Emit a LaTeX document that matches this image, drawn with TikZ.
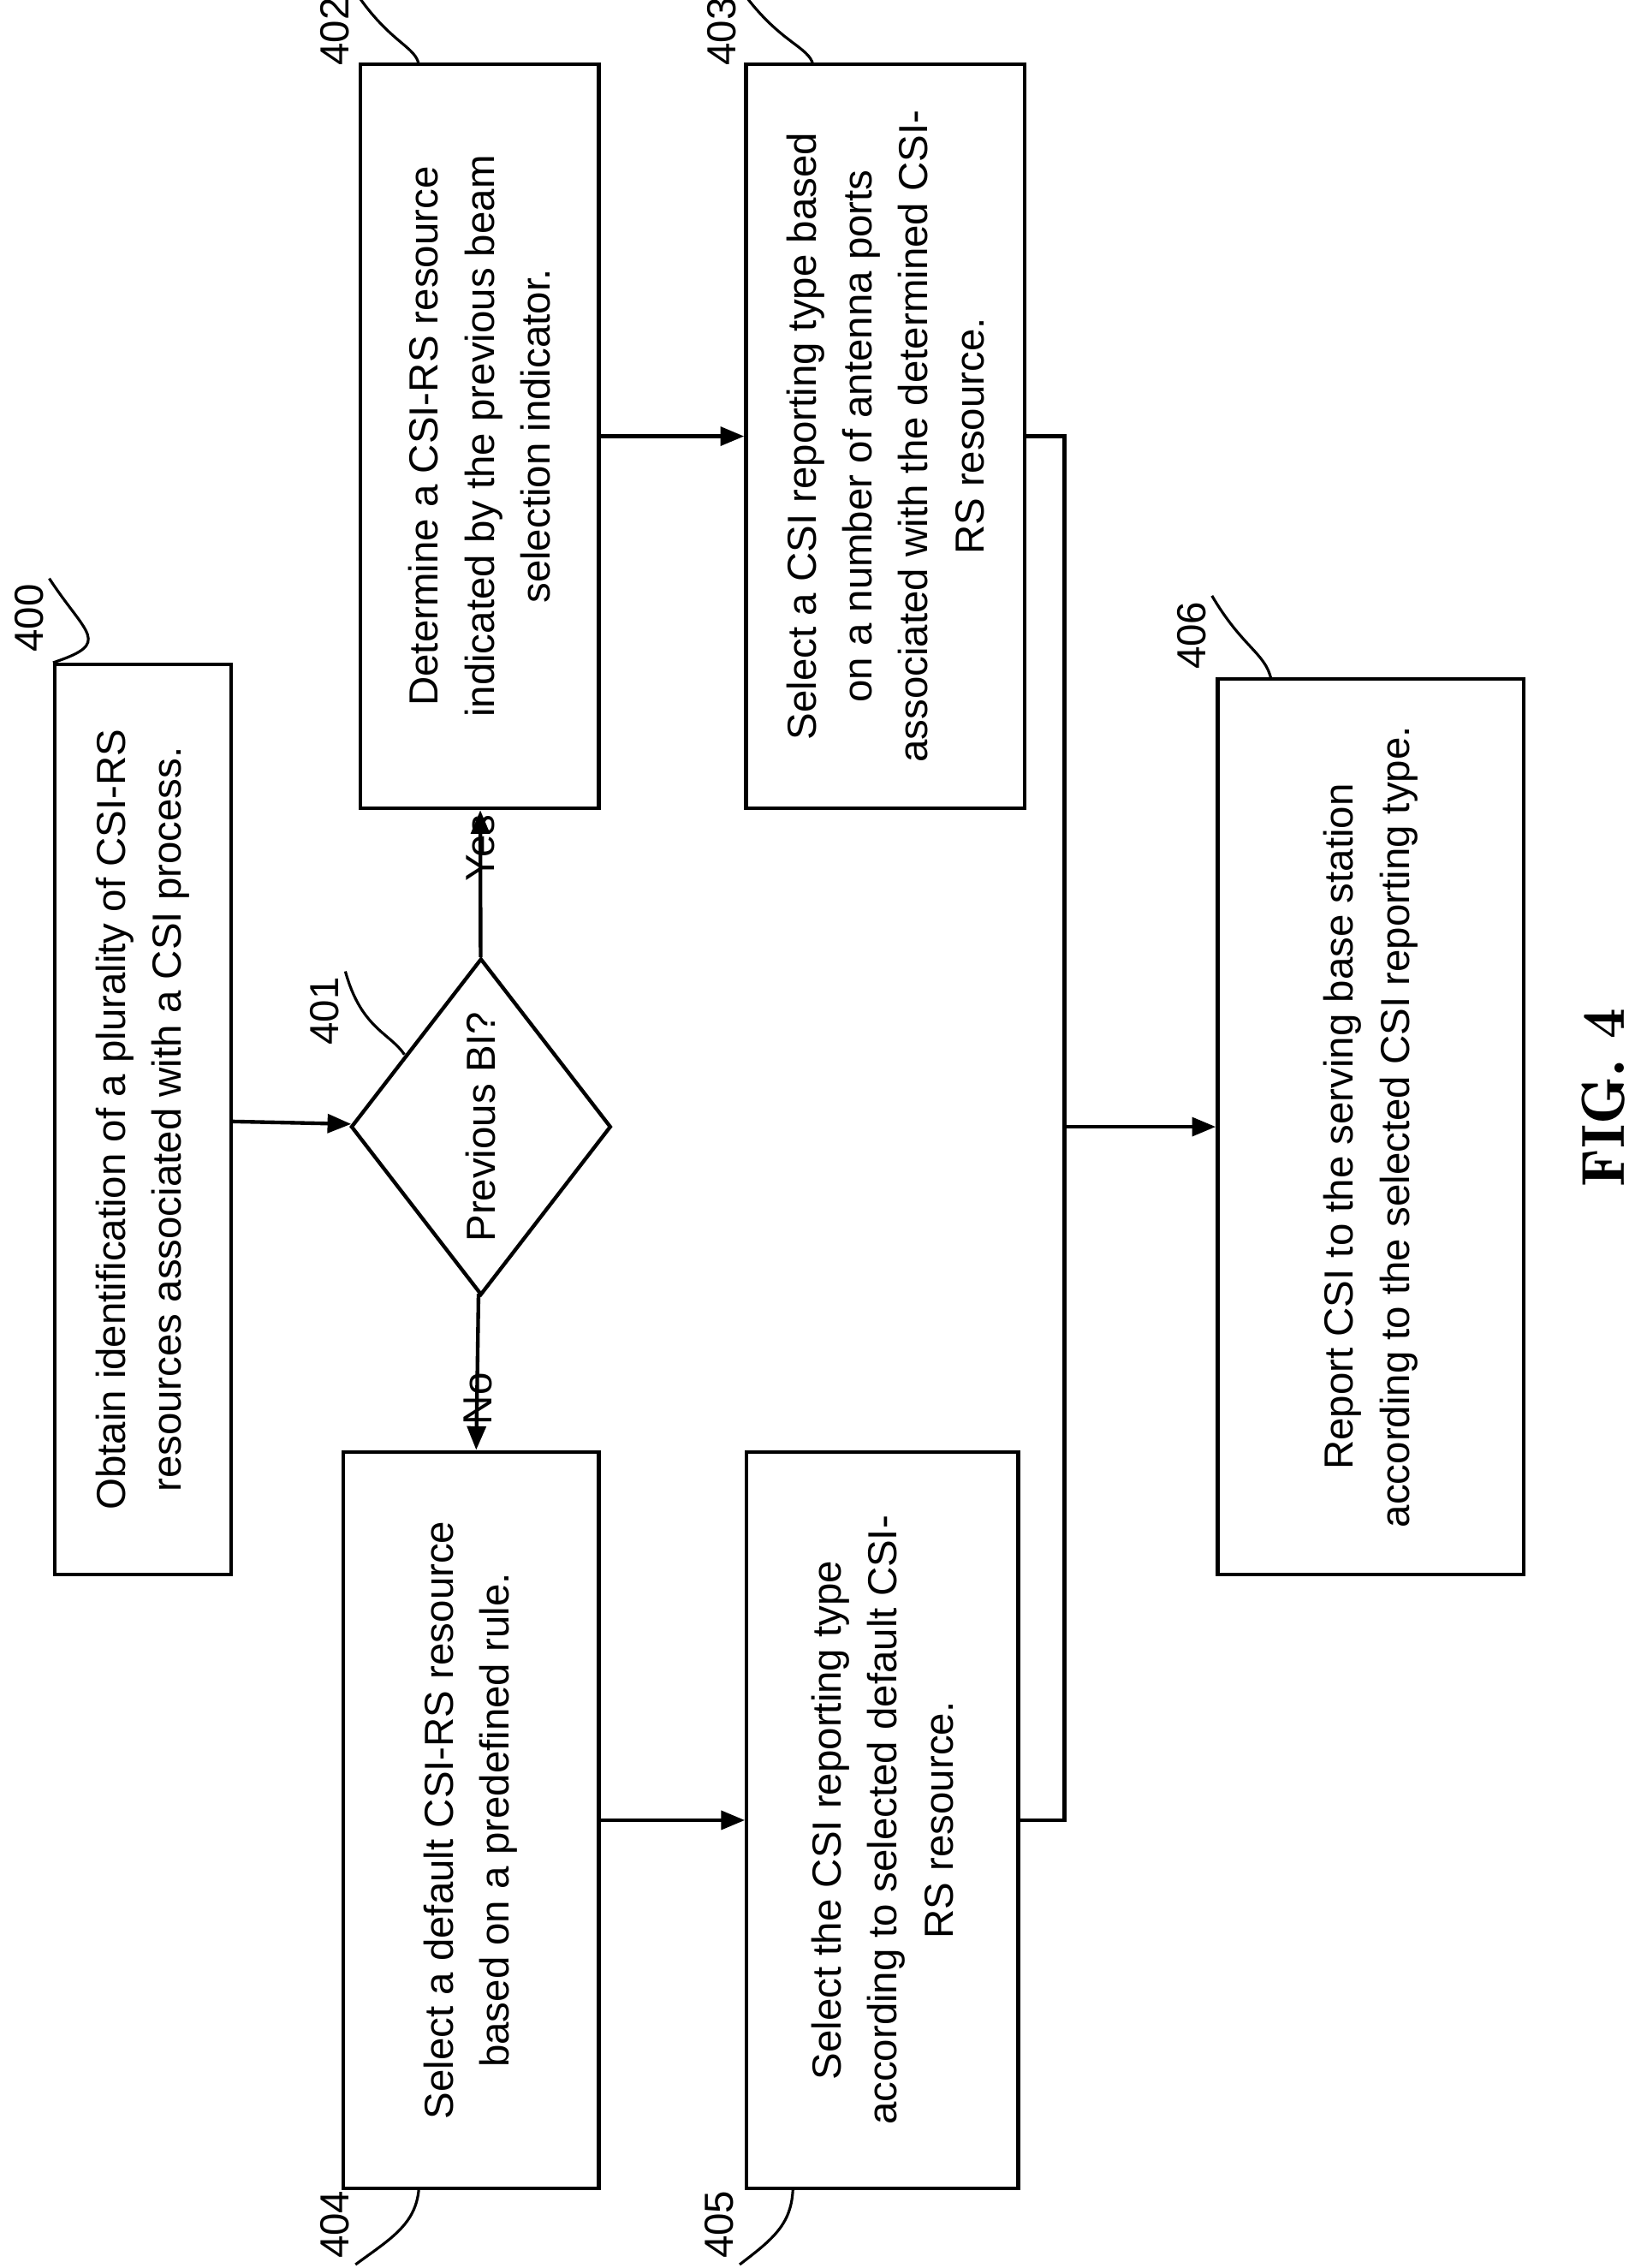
\documentclass[tikz,border=0pt]{standalone}
\usepackage{fontspec}
\setmainfont{Liberation Sans}
\usetikzlibrary{shapes.geometric,arrows.meta}
\begin{document}
\begin{tikzpicture}[x=0.03cm,y=-0.03cm]
\tikzset{box/.style={draw,line width=2.2pt,rotate=90,align=center,inner sep=0pt,
  font=\fontsize{24}{33}\selectfont},
  decision/.style={draw,diamond,line width=2.2pt,rotate=90,inner sep=0pt,
  font=\fontsize{24}{33}\selectfont},
  lbl/.style={rotate=90,font=\fontsize{24}{28}\selectfont},
  arrow/.style={line width=2.2pt,-{Triangle[length=14pt,width=11pt]}},
  wire/.style={line width=2.2pt},
  hook/.style={line width=1.6pt}}
\useasboundingbox (0,0) rectangle (1140,1570);
\node[box,minimum width=18.9cm,minimum height=3.66cm] (b400) at (99,775)
  {Obtain identification of a plurality of CSI-RS\\resources associated with a CSI process.};
\node[decision,minimum width=6.99cm,minimum height=5.25cm] (d401) at (333,780) {Previous BI?};
\node[box,minimum width=15.45cm,minimum height=4.95cm] (b402) at (332,302)
  {Determine a CSI-RS resource\\indicated by the previous beam\\selection indicator.};
\node[box,minimum width=15.45cm,minimum height=5.79cm] (b403) at (613,302)
  {Select a CSI reporting type based\\on a number of antenna ports\\associated with the determined CSI-\\RS resource.};
\node[box,minimum width=15.3cm,minimum height=5.31cm] (b404) at (326,1260)
  {Select a default CSI-RS resource\\based on a predefined rule.};
\node[box,minimum width=15.3cm,minimum height=5.64cm] (b405) at (611,1260)
  {Select the CSI reporting type\\according to selected default CSI-\\RS resource.};
\node[box,minimum width=18.6cm,minimum height=6.36cm] (b406) at (949,780)
  {Report CSI to the serving base station\\according to the selected CSI reporting type.};
% reference numbers
\node[lbl] (n400) at (20,428) {400};
\node[lbl] (n401) at (225,700) {401};
\node[lbl] (n402) at (232,22) {402};
\node[lbl] (n403) at (500,22) {403};
\node[lbl] (n404) at (232,1540) {404};
\node[lbl] (n405) at (498,1540) {405};
\node[lbl] (n406) at (825,440) {406};
\draw[hook] (n400.south east) .. controls (60,440) and (78,445) .. (b400.north east);
\draw[hook] (n401.south east) .. controls (250,712) and (270,715) .. (280,730);
\draw[hook] (n402.south east) .. controls (270,30) and (288,32) .. (290,45);
\draw[hook] (n403.south east) .. controls (540,30) and (560,32) .. (563,45);
\draw[hook] (n404.south west) .. controls (270,1550) and (288,1540) .. (290,1515);
\draw[hook] (n405.south west) .. controls (535,1550) and (548,1540) .. (549,1515);
\draw[hook] (n406.south east) .. controls (860,448) and (876,452) .. (880,470);
% connectors
\draw[arrow] (b400) -- (d401);
\draw[arrow] (d401) -- node[lbl,pos=0.35,right=10pt] {Yes} (b402);
\draw[arrow] (d401) -- node[lbl,pos=0.35,left=10pt] {No} (b404);
\draw[arrow] (b402.south) -- (b403.north);
\draw[arrow] (b404.south) -- (b405.north);
\coordinate (j1) at (737,302);
\coordinate (j2) at (737,1260);
\coordinate (j3) at (737,780);
\draw[wire] (b403.south) -- (j1) -- (j2) -- (b405.south);
\draw[arrow] (j3) -- (b406.north);
\node[rotate=90,font=\fontfamily{lmr}\bfseries\fontsize{36}{40}\selectfont] (fig) at (1110,760) {FIG. 4};
\end{tikzpicture}
\end{document}
